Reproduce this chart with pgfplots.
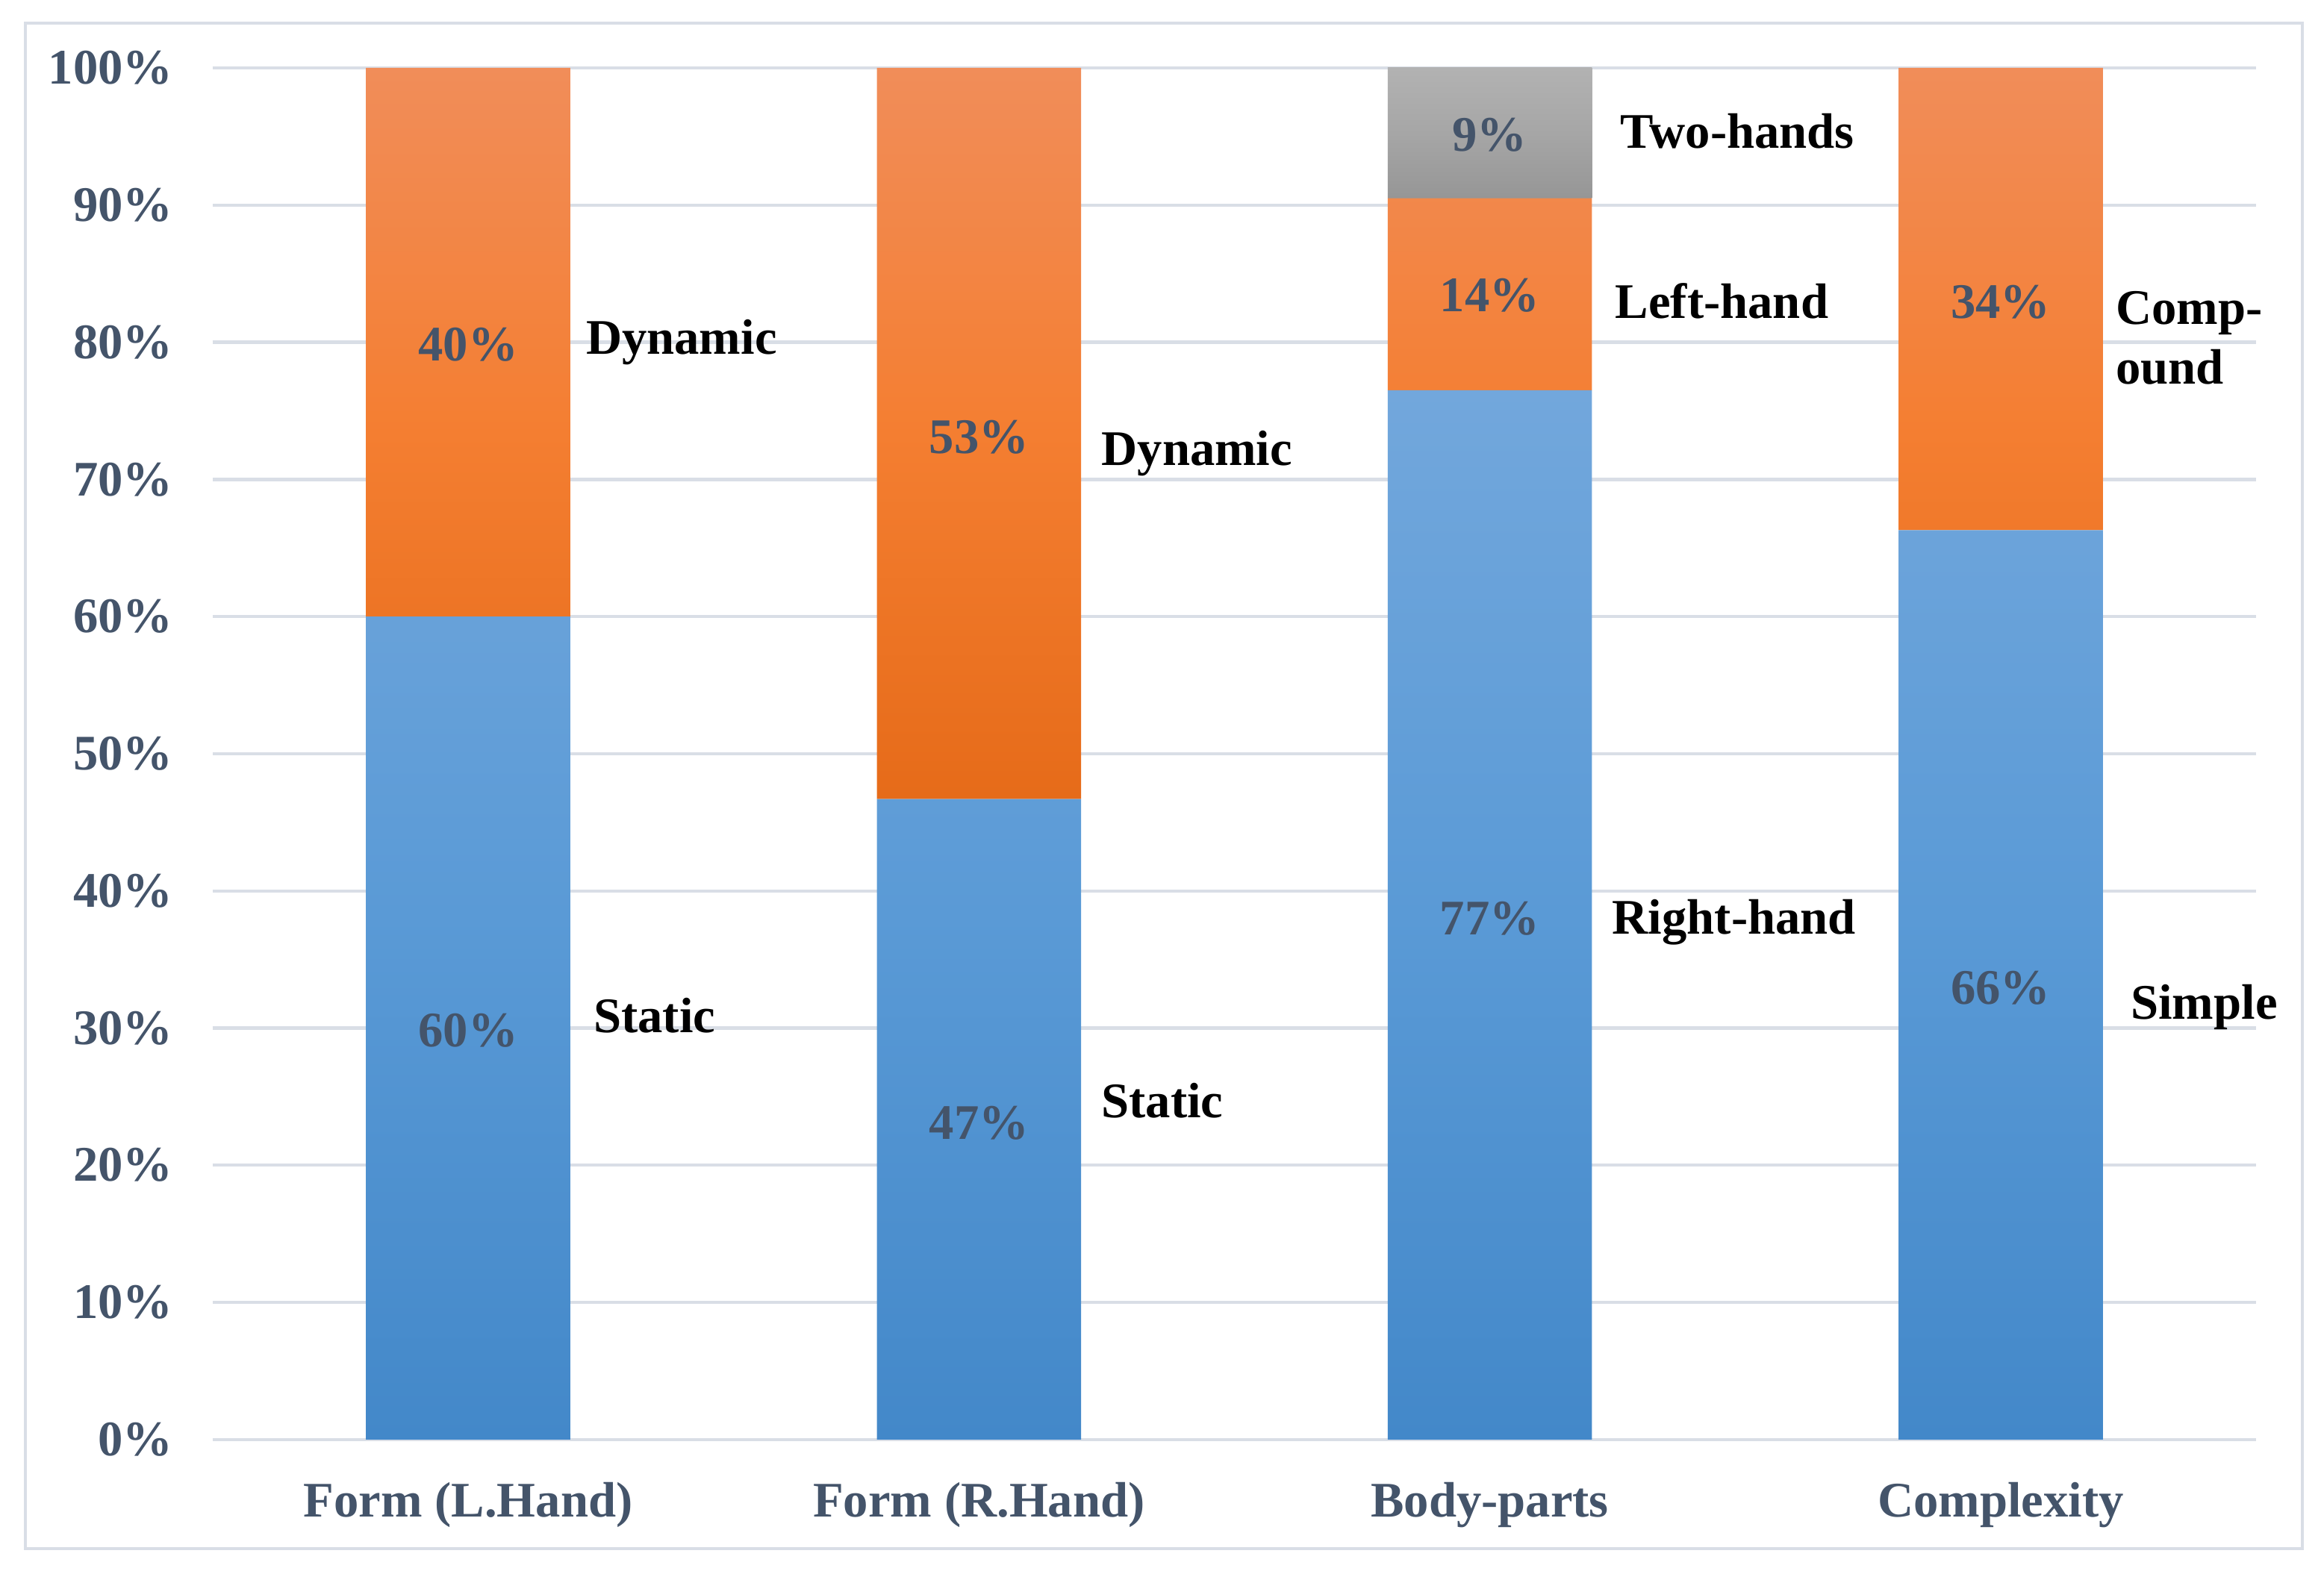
\documentclass[border=0pt]{standalone}
\usepackage{fontspec}
\setmainfont{Liberation Serif}
\usepackage{pgfplots}
\pgfplotsset{compat=1.18}
\usepackage{pgfplotstable}

\definecolor{gridc}{HTML}{D9DEE6}
\definecolor{txt}{HTML}{44546A}
\definecolor{bluetop}{HTML}{72A7DC}
\definecolor{bluemid}{HTML}{5A9AD6}
\definecolor{bluebot}{HTML}{4388C9}
\definecolor{ortop}{HTML}{F18D59}
\definecolor{ormid}{HTML}{F47E31}
\definecolor{orbot}{HTML}{E66B19}
\definecolor{grtop}{HTML}{B2B2B2}
\definecolor{grmid}{HTML}{A6A6A6}
\definecolor{grbot}{HTML}{969696}

\tikzset{
  vallab/.style={font=\bfseries, text=txt},
  seglab/.style={font=\bfseries, anchor=west, inner sep=0pt},
}

% shares per category: bottom, middle, top segment (percent)
\pgfplotstableread{
x base mid top
0 60.0 40.0 0
1 46.7 53.3 0
2 76.5 14.0 9.5
3 66.3 33.7 0
}\shares

\begin{document}
\begin{tikzpicture}
\begin{axis}[
  scale only axis, width=410.6pt, height=275.7pt,
  ybar stacked, bar width=0.4,
  xmin=-0.5, xmax=3.5, ymin=0, ymax=100,
  xtick={0,1,2,3},
  xticklabels={Form (L.Hand), Form (R.Hand), Body-parts, Complexity},
  ytick={0,10,...,100},
  yticklabels={0\%,10\%,20\%,30\%,40\%,50\%,60\%,70\%,80\%,90\%,100\%},
  ymajorgrids, grid style={gridc, line width=0.65pt},
  axis line style={draw=none}, major tick length=0pt,
  tick style={draw=none},
  tick label style={font=\bfseries, text=txt},
  yticklabel style={anchor=east, inner sep=0pt, xshift=-7.8pt},
  xticklabel style={anchor=base, inner sep=0pt, yshift=-15.6pt},
  clip=false,
]
\addplot[draw=none, top color=bluetop, bottom color=bluebot, middle color=bluemid] table[x=x, y=base] {\shares};
\addplot[draw=none, top color=ortop, bottom color=orbot, middle color=ormid] table[x=x, y=mid] {\shares};
\addplot[draw=none, top color=grtop, bottom color=grbot, middle color=grmid] table[x=x, y=top] {\shares};

% where the value labels go (drawn after the axis, on top of the bars)
\coordinate (v1) at (axis cs:0,29.8);
\coordinate (v2) at (axis cs:0,79.8);
\coordinate (v3) at (axis cs:1,23.1);
\coordinate (v4) at (axis cs:1,73.1);
\coordinate (v5) at (axis cs:2,38.0);
\coordinate (v6) at (axis cs:2,83.4);
\coordinate (v7) at (axis cs:2,95.1);
\coordinate (v8) at (axis cs:3,32.9);
\coordinate (v9) at (axis cs:3,82.9);

% segment names beside the bars
\node[seglab] at (axis cs:0.229,80.0) {Dynamic};
\node[seglab] at (axis cs:0.244,30.9) {Static};
\node[seglab] at (axis cs:1.238,71.9) {Dynamic};
\node[seglab] at (axis cs:1.238,24.7) {Static};
\node[seglab] at (axis cs:2.253,95.4) {Two-hands};
\node[seglab] at (axis cs:2.244,83.0) {Left-hand};
\node[seglab] at (axis cs:2.238,37.7) {Right-hand};
\node[seglab, align=left] at (axis cs:3.224,80.3) {Comp-\\ound};
\node[seglab] at (axis cs:3.253,31.5) {Simple};
\end{axis}
\node[vallab] at (v1) {60\%};
\node[vallab] at (v2) {40\%};
\node[vallab] at (v3) {47\%};
\node[vallab] at (v4) {53\%};
\node[vallab] at (v5) {77\%};
\node[vallab] at (v6) {14\%};
\node[vallab] at (v7) {9\%};
\node[vallab] at (v8) {66\%};
\node[vallab] at (v9) {34\%};
\draw[gridc, line width=0.6pt] ([xshift=-37.65pt,yshift=-21.9pt]current axis.south west) rectangle ([xshift=9.3pt,yshift=9pt]current axis.north east);
\path ([xshift=-42.75pt,yshift=-27pt]current axis.south west) rectangle ([xshift=13.65pt,yshift=13.65pt]current axis.north east);
\end{tikzpicture}
\end{document}
